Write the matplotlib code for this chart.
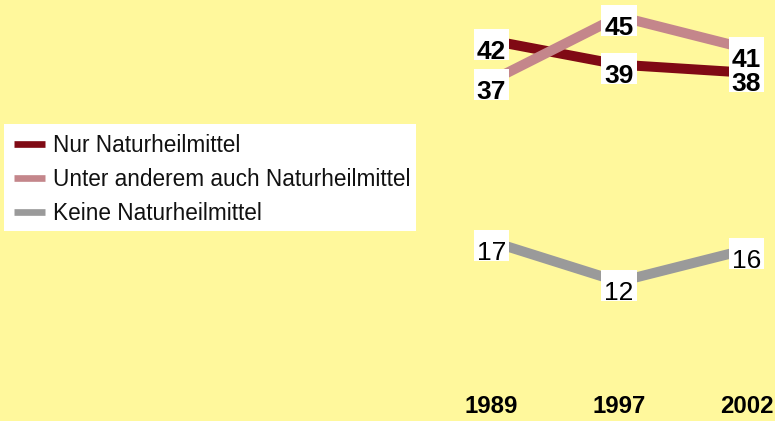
import matplotlib
matplotlib.use("Agg")
import matplotlib.pyplot as plt
from matplotlib.path import Path

plt.rcParams['font.family'] = ['Liberation Sans', 'DejaVu Sans']

years = ["1989", "1997", "2002"]
series_names = ["Nur Naturheilmittel", "Unter anderem auch Naturheilmittel", "Keine Naturheilmittel"]
nur = [42, 39, 38]
unter_anderem = [37, 45, 41]
keine = [17, 12, 16]
colors = ["#800A14", "#C4868B", "#9A9A9A"]
label_weights = ["bold", "bold", "normal"]
label_order = [0, 2, 1]  # pink labels drawn on top

BG = "#FFF89C"
W, H = 775, 421
fig = plt.figure(figsize=(W / 100, H / 100), dpi=100, facecolor=BG)
ax = fig.add_axes([0, 0, 1, 1])
ax.set_facecolor(BG)

# pixel mapping of the category / value axes
x0px, dxpx = 491.5, 127.5
ax.set_xlim(-x0px / dxpx, 2 + (W - (x0px + 2 * dxpx)) / dxpx)
ytop_px, per = 16.4, 8.04
ax.set_ylim(45 - (H - ytop_px) / per, 45 + ytop_px / per)
ax.axis("off")


def label_box(x0, y0, width, height, mutation_size):
    ms = mutation_size
    base = y0 + 0.21 * ms
    padx = 0.11 * ms
    bottom = base - 0.065 * ms
    top = base + 1.11 * ms
    verts = [(x0 - padx, bottom), (x0 + width + padx, bottom),
             (x0 + width + padx, top), (x0 - padx, top), (x0 - padx, bottom)]
    return Path(verts, closed=True)


xs = list(range(len(years)))
data = [nur, unter_anderem, keine]
for i, (vals, col, name) in enumerate(zip(data, colors, series_names)):
    ax.plot(xs, vals, color=col, lw=7.2, solid_capstyle="butt", label=name, zorder=2 + i * 0.1)

for k, i in enumerate(label_order):
    vals, w = data[i], label_weights[i]
    for x, v in zip(xs, vals):
        ax.annotate(str(v), (x, v), xytext=(0, -18.5), textcoords="offset pixels",
                    ha="center", va="baseline", fontsize=19, fontweight=w,
                    color="black", zorder=5 + k,
                    bbox=dict(boxstyle=label_box, fc="white", ec="none"))

for x, y in zip(xs, years):
    ax.text(x, 1 - 406.5 / H, y, transform=ax.get_xaxis_transform(), ha="center",
            va="center", fontsize=17.3, fontweight="bold", color="black")

EXT_LEFT, EXT_TOP = 4.3, 4.2


def legend_box(x0, y0, width, height, mutation_size):
    verts = [(x0 - EXT_LEFT, y0), (x0 + width, y0), (x0 + width, y0 + height + EXT_TOP),
             (x0 - EXT_LEFT, y0 + height + EXT_TOP), (x0 - EXT_LEFT, y0)]
    return Path(verts, closed=True)


leg = ax.legend(loc="upper left", bbox_to_anchor=((4 + EXT_LEFT) / W, 1 - (124 + EXT_TOP) / H),
                bbox_transform=fig.transFigure, borderaxespad=0, frameon=True,
                fancybox=False, framealpha=1, facecolor="white",
                fontsize=16.3, handlelength=1.37, handletextpad=0.35, borderpad=0.25,
                labelspacing=0.49)
for lh in leg.get_lines():
    lh.set_linewidth(4.8)
frame = leg.get_frame()
frame.set_linewidth(0)
frame.set_edgecolor("none")
frame.set_boxstyle(legend_box)
for t in leg.get_texts():
    t.set_color("#111111")

fig.savefig("out.png", dpi=100, facecolor=BG)
